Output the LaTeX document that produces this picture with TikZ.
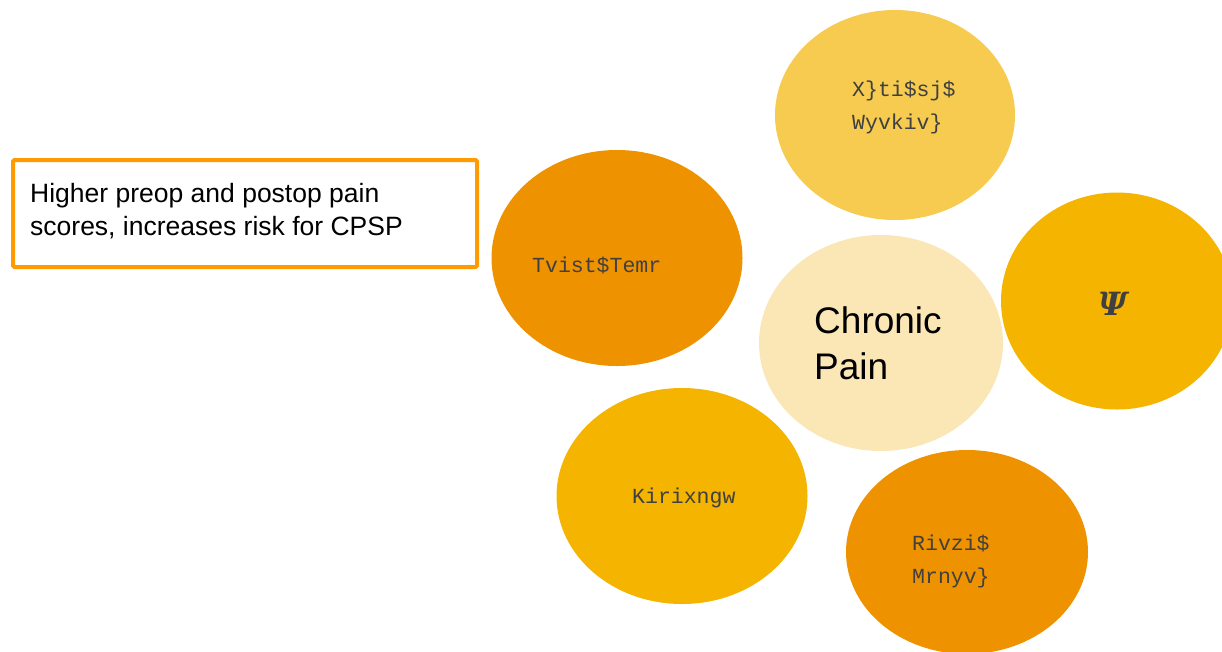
\documentclass[tikz,border=0pt]{standalone}
\usepackage{fontspec}
\setmainfont{Liberation Sans}
\newfontfamily\monof{Liberation Mono}
\newfontfamily\psif{DejaVu Serif}
\definecolor{cTop}{HTML}{F6CB4F}
\definecolor{cDark}{HTML}{EF9200}
\definecolor{cMid}{HTML}{F4B400}
\definecolor{cCore}{HTML}{FBE7B5}
\definecolor{cBox}{HTML}{FF9A00}
\definecolor{cTxt}{HTML}{404040}
\tikzset{
  blob/.style={ellipse, inner sep=0pt, draw=none},
  garb/.style={font=\monof\fontsize{21.5}{33}\selectfont, text=cTxt, anchor=west, align=left, inner sep=0pt},
}
\usetikzlibrary{shapes.geometric}
\begin{document}
\begin{tikzpicture}[x=1pt,y=-1pt]
\useasboundingbox (0,0) rectangle (1222,651);
\begin{scope}
\clip (0,0) rectangle (1222,651);
\node[blob, fill=cTop, minimum width=240pt, minimum height=210pt] (surg) at (895,115) {};
\node[blob, fill=cDark, minimum width=251pt, minimum height=216pt] (preop) at (617,258) {};
\node[blob, fill=cCore, minimum width=244pt, minimum height=216pt] (core) at (881,343) {};
\node[blob, fill=cMid, minimum width=232pt, minimum height=217pt] (psi) at (1117,301) {};
\node[blob, fill=cMid, minimum width=251pt, minimum height=216pt] (gen) at (682,496) {};
\node[blob, fill=cDark, minimum width=242pt, minimum height=204pt] (nerve) at (967,552) {};
\end{scope}
\node[garb] (tsurg) at (852,107) {X\}ti\$sj\$\\Wyvkiv\}};
\node[garb] (tpreop) at (532,265) {Tvist\$Temr};
\node[garb] (tgen) at (632,498) {Kirixngw};
\node[garb] (tnerve) at (912,561) {Rivzi\$\\Mrnyv\}};
\node[font=\psif\bfseries\itshape\fontsize{32}{34}\selectfont, text=cTxt] (tpsi) at (1113,304) {Ψ};
\node[anchor=west, align=left, inner sep=0pt, font=\fontsize{37}{46}\selectfont, text=black] (tcore) at (814,343) {Chronic\\Pain};
\node[draw=cBox, line width=4pt, rounded corners=1.5pt, minimum width=464pt, minimum height=107pt, anchor=north west, inner sep=0pt] (box) at (11,158) {};
\node[anchor=west, align=left, inner sep=0pt, font=\fontsize{26.5}{33}\selectfont, text=black] (tbox) at (30,211) {Higher preop and postop pain\\scores, increases risk for CPSP};
\end{tikzpicture}
\end{document}
